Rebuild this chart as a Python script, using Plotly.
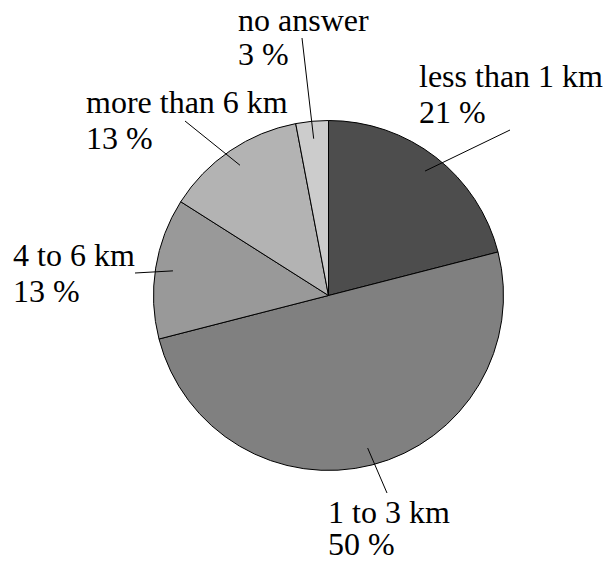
import math
import plotly.graph_objects as go

# Distance travelled, share of respondents
categories = ["less than 1 km", "1 to 3 km", "4 to 6 km", "more than 6 km", "no answer"]
shares = [21, 50, 13, 13, 3]
slice_colors = ["#4d4d4d", "#808080", "#999999", "#b3b3b3", "#cccccc"]

W, H = 604, 561
CX, CY, R = 328.5, 295.5, 175.0   # pie centre and radius in pixels
FONT = "Liberation Serif"
FS = 32

# label placement: left edge, first-line baseline, second-line baseline, leader end
label_layout = {
    "less than 1 km": (418, 87, 123, (510, 130)),
    "1 to 3 km": (327, 523, 555, (387, 493)),
    "4 to 6 km": (12, 266, 302, (135, 273)),
    "more than 6 km": (85, 113, 149, (185, 121)),
    "no answer": (237, 31, 65, (302, 38)),
}


def px(x):
    return x / W


def py(y):
    return 1 - y / H


fig = go.Figure(
    go.Pie(
        labels=categories,
        values=shares,
        sort=False,
        direction="clockwise",
        rotation=0,
        textinfo="none",
        hoverinfo="label+percent",
        marker=dict(colors=slice_colors, line=dict(color="black", width=1)),
        domain=dict(x=[px(CX - R), px(CX + R)], y=[py(CY + R), py(CY - R)]),
        showlegend=False,
    )
)

total = sum(shares)
cum = 0
shapes = []
annotations = []
for name, val in zip(categories, shares):
    mid = (cum + val / 2) / total * 2 * math.pi
    cum += val
    ix = CX + 0.9 * R * math.sin(mid)
    iy = CY - 0.9 * R * math.cos(mid)
    left, b1, b2, (ox, oy) = label_layout[name]
    shapes.append(dict(type="line", xref="paper", yref="paper",
                       x0=px(ix), y0=py(iy), x1=px(ox), y1=py(oy),
                       line=dict(color="black", width=1)))
    for text, base in ((name, b1), (f"{val} %", b2)):
        annotations.append(dict(
            text=text, xref="paper", yref="paper",
            x=px(left), y=py(base - 0.3375 * FS),
            xanchor="left", yanchor="middle", showarrow=False,
            borderpad=0, font=dict(family=FONT, size=FS, color="black"),
        ))

fig.update_layout(
    width=W, height=H,
    margin=dict(l=0, r=0, t=0, b=0),
    paper_bgcolor="white", plot_bgcolor="white",
    font=dict(family=FONT),
    shapes=shapes, annotations=annotations,
)

fig.write_html("out.html")
